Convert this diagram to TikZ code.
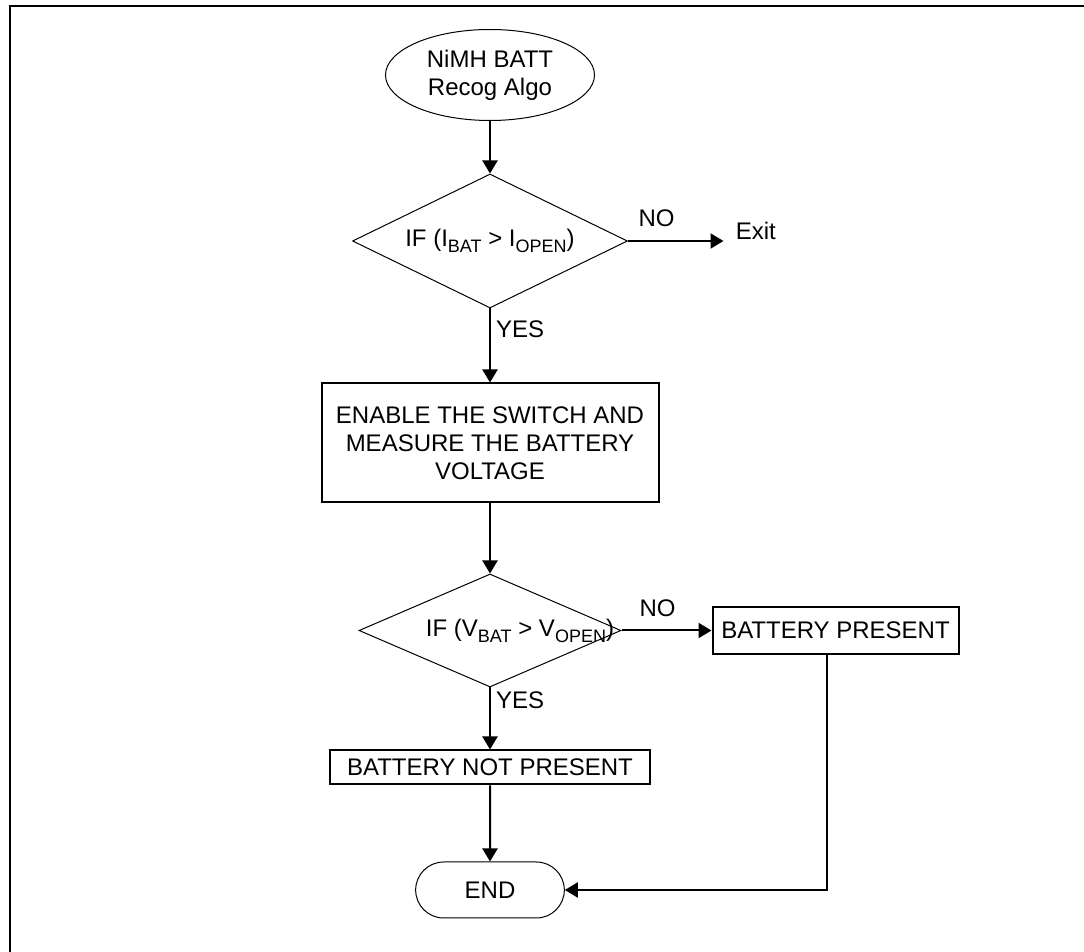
\documentclass[tikz,border=0pt]{standalone}
\usepackage{fontspec}
\setmainfont{Liberation Sans}
\usetikzlibrary{shapes.geometric, shapes.misc, arrows.meta, positioning}

\newcommand{\lowsub}[1]{\raisebox{-3pt}{\fontsize{9}{10}\selectfont #1}}

\tikzset{
  terminal/.style={ellipse, draw, line width=0.5pt, minimum width=104.5pt, minimum height=45.5pt, align=center, inner sep=1pt},
  decision/.style={diamond, draw, line width=0.5pt, aspect=2, inner sep=1pt},
  process/.style={rectangle, draw, line width=1pt, align=center, inner sep=2pt},
  result/.style={rectangle, draw, line width=1pt, inner sep=2pt},
  finish/.style={rounded rectangle, draw, line width=0.5pt, minimum width=81pt, minimum height=28pt},
  lbl/.style={inner sep=1pt},
  flow/.style={line width=1pt, -{Triangle[length=6.5pt,width=7.5pt]}},
}

\begin{document}
\begin{tikzpicture}[x=0.5pt, y=-0.5pt, every node/.style={font=\fontsize{12}{14}\selectfont}]
\useasboundingbox (0,0) rectangle (1084,952);
% figure frame (cut at right and bottom)
\draw[line width=1pt] (10,952) -- (10,6) -- (1084,6);

% start
\node[terminal] (start) at (490,75) {NiMH BATT\\Recog Algo};

% current check
\node[decision, minimum width=137.5pt, minimum height=67pt, below=26.25pt of start] (ifcur) {IF (I\lowsub{BAT} > I\lowsub{OPEN})};
\node[lbl, inner xsep=6pt, right=47.75pt of ifcur, yshift=5pt] (exit) {Exit};

% switch on and measure
\node[process, minimum width=168.5pt, minimum height=59.5pt, below=37pt of ifcur] (enable) {ENABLE THE SWITCH AND\\MEASURE THE BATTERY\\VOLTAGE};

% voltage check (text sits right of centre)
\node[decision, minimum width=131pt, minimum height=56.5pt, below=35pt of enable] (ifvolt) {\hspace*{30pt}\makebox[0pt]{IF (V\lowsub{BAT} > V\lowsub{OPEN})}};
\node[result, minimum width=123pt, minimum height=23.5pt, right=45pt of ifvolt] (batt) {BATTERY PRESENT};
\node[result, minimum width=160pt, minimum height=17pt, below=31pt of ifvolt] (nobatt) {BATTERY NOT PRESENT};

% end
\node[finish, below=38pt of nobatt] (done) {END};

% connectors
\draw[flow] (start) -- (ifcur);
\draw[flow] (ifcur.east) -- node[lbl, pos=0.3, above=5.5pt] {NO} (ifcur.east -| exit.west);
\draw[flow] (ifcur) -- node[lbl, pos=0.28, right=1.5pt] {YES} (enable);
\draw[flow] (enable) -- (ifvolt);
\draw[flow] (ifvolt) -- node[lbl, pos=0.4, above=5.5pt] {NO} (batt);
\draw[flow] (ifvolt) -- node[lbl, pos=0.21, right=1.5pt] {YES} (nobatt);
\draw[flow] (nobatt) -- (done);
\draw[flow] ([xshift=-4.5pt]batt.south) |- (done.east);
\end{tikzpicture}
\end{document}
